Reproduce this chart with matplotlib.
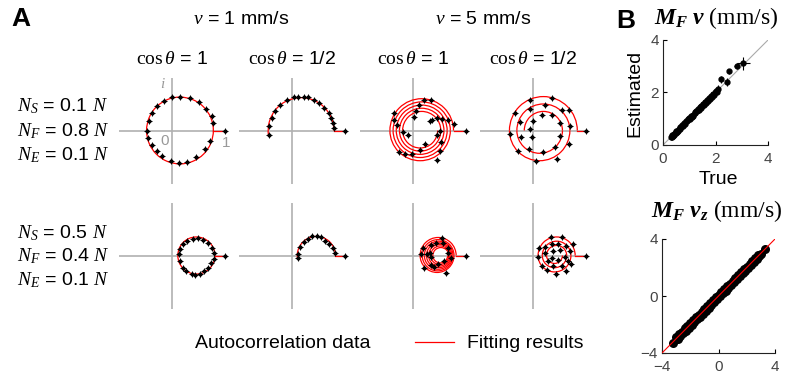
import matplotlib.pyplot as plt
from matplotlib.patches import Arc

plt.rcParams['font.family'] = ['Liberation Sans', 'DejaVu Sans']
# sans text, serif italic symbols (as in the original figure)
plt.rcParams['mathtext.fontset'] = 'custom'
plt.rcParams['mathtext.rm'] = 'Liberation Sans'
plt.rcParams['mathtext.it'] = 'Liberation Serif:italic'
plt.rcParams['mathtext.bf'] = 'Liberation Serif:bold'
plt.rcParams['mathtext.bfit'] = 'Liberation Serif:bold:italic'
plt.rcParams['mathtext.sf'] = 'Liberation Serif'

W, H = 790, 377

# ---------------- panel A : autocorrelation data (real, imag) ----------------
# row 1 : N_S = 0.1N, N_F = 0.8N ; row 2 : N_S = 0.5N, N_F = 0.4N
r1c1_x = [1.0, 0.0, 0.16, 0.34, 0.50, 0.64, 0.75, 0.78, 0.72, 0.62, 0.45, 0.29, 0.14, -0.02,
          -0.18, -0.29, -0.38, -0.46, -0.48, -0.43, -0.38, -0.28, -0.16]
r1c1_y = [0.0, 0.64, 0.64, 0.62, 0.53, 0.40, 0.28, 0.14, -0.19, -0.35, -0.50, -0.60, -0.62, -0.58,
          -0.48, -0.39, -0.28, -0.15, 0.0, 0.18, 0.33, 0.46, 0.55]

r1c2_x = [1.0, 0.79, 0.77, 0.74, 0.69, 0.60, 0.50, 0.41, 0.31, 0.22, 0.12, 0.03, -0.09, -0.22,
          -0.32, -0.38, -0.44, -0.44]
r1c2_y = [0.0, 0.05, 0.15, 0.24, 0.33, 0.43, 0.52, 0.58, 0.63, 0.63, 0.63, 0.63, 0.57, 0.49,
          0.36, 0.24, 0.08, -0.08]

r1c3_x = [1.0, 0.77, 0.34, 0.22, 0.12, 0.06, 0.02, -0.35, -0.35, -0.30, -0.19, -0.08, -0.26,
          -0.15, -0.02, 0.14, 0.23, 0.45, 0.53, 0.52, 0.45, 0.36, 0.45, 0.55, 0.67, 0.52, 0.33]
r1c3_y = [0.0, 0.13, 0.58, 0.57, 0.49, 0.36, 0.26, 0.33, 0.19, 0.11, -0.03, -0.09, -0.40,
          -0.45, -0.45, -0.36, -0.25, -0.08, -0.21, -0.39, -0.55, 0.19, 0.24, 0.21, 0.19, 0.0, 0.17]

r1c4_x = [1.0, 0.35, -0.06, -0.35, -0.44, -0.28, 0.05, 0.44, 0.68, 0.69, 0.67, 0.54, 0.22,
          -0.06, -0.25, -0.24, -0.08, 0.18, 0.41, 0.50, 0.50, 0.35, 0.16, 0.0, -0.06, -0.03]
r1c4_y = [0.0, 0.62, 0.58, 0.33, -0.06, -0.39, -0.58, -0.53, -0.25, 0.08, 0.38, 0.38, 0.49,
          0.41, 0.16, -0.12, -0.34, -0.41, -0.31, -0.11, 0.15, 0.30, 0.30, 0.18, 0.03, -0.12]

r2c1_x = [1.0, 0.16, 0.13, 0.15, 0.21, 0.27, 0.37, 0.44, 0.52, 0.60, 0.68, 0.74, 0.79, 0.79,
          0.75, 0.68, 0.58, 0.49, 0.40, 0.29, 0.21]
r2c1_y = [0.0, 0.12, 0.02, -0.11, -0.23, -0.30, -0.34, -0.36, -0.34, -0.30, -0.23, -0.15, -0.06,
          0.05, 0.14, 0.24, 0.30, 0.33, 0.31, 0.27, 0.21]

r2c2_x = [1.0, 0.82, 0.77, 0.70, 0.63, 0.55, 0.47, 0.38, 0.30, 0.22, 0.16, 0.11, 0.11]
r2c2_y = [0.0, 0.05, 0.14, 0.22, 0.28, 0.35, 0.36, 0.36, 0.31, 0.25, 0.16, 0.03, -0.05]

r2c3_x = [1.0, 0.55, 0.58, 0.44, 0.35, 0.19, 0.16, 0.27, 0.35, 0.22, 0.35, 0.47, 0.62, 0.60,
          0.66, 0.72, 0.66, 0.41, 0.32]
r2c3_y = [0.0, 0.33, 0.24, 0.24, 0.19, 0.14, 0.03, 0.02, -0.03, -0.23, -0.17, -0.16, -0.33, -0.11,
          0.05, -0.05, 0.14, -0.22, 0.05]

r2c4_x = [1.0, 0.33, 0.55, 0.75, 0.11, 0.09, 0.16, 0.25, 0.42, 0.61, 0.72, 0.22, 0.23, 0.35,
          0.47, 0.61, 0.69, 0.66, 0.54, 0.38, 0.28, 0.35, 0.38, 0.50, 0.60, 0.47]
r2c4_y = [0.0, 0.35, 0.35, 0.21, 0.14, -0.03, -0.20, -0.28, -0.35, -0.30, -0.16, 0.05, 0.16, 0.22,
          0.22, 0.18, 0.08, -0.11, -0.20, -0.20, -0.11, -0.05, 0.09, 0.11, -0.03, -0.09]

# fitting results : circle (centre, radius, end angle) for v = 1 mm/s,
# spiral (start point on real axis, radius of every half turn) for v = 5 mm/s
r1c1_fit = ('circle', 0.15, 0.63, 360)
r1c2_fit = ('circle', 0.17, 0.62, 188)
r2c1_fit = ('circle', 0.46, 0.35, 360)
r2c2_fit = ('circle', 0.46, 0.36, 190)
r1c3_fit = ('spiral', 0.77, [0.60, 0.57, 0.54, 0.51, 0.48, 0.45, 0.42, 0.39, 0.36, 0.33])
r1c4_fit = ('spiral', 0.83, [0.64, 0.57, 0.50, 0.43, 0.36])
r2c3_fit = ('spiral', 0.82, [0.34, 0.32, 0.30, 0.29, 0.27, 0.26, 0.24, 0.23, 0.21, 0.20,
                             0.18, 0.17, 0.15, 0.14])
r2c4_fit = ('spiral', 0.79, [0.35, 0.31, 0.27, 0.23, 0.19, 0.15])

col_labels = [r'$\mathsf{cos}\,\theta$ = 1', r'$\mathsf{cos}\,\theta$ = 1/2',
              r'$\mathsf{cos}\,\theta$ = 1', r'$\mathsf{cos}\,\theta$ = 1/2']
speed_labels = [r'$v$ = 1 mm/s', r'$v$ = 5 mm/s']
row1_labels = [r'$N_S$ = 0.1 $N$', r'$N_F$ = 0.8 $N$', r'$N_E$ = 0.1 $N$']
row2_labels = [r'$N_S$ = 0.5 $N$', r'$N_F$ = 0.4 $N$', r'$N_E$ = 0.1 $N$']

# ---------------- panel B ----------------
# M_F v : true vs estimated, with error bars
bt_true = [0.30, 0.33, 0.36, 0.38, 0.40, 0.42, 0.45, 0.48, 0.50, 0.53, 0.56, 0.60, 0.63, 0.66,
           0.70, 0.73, 0.76, 0.80, 0.84, 0.88, 0.92, 0.96, 1.00, 1.03, 1.06, 1.10, 1.13, 1.16,
           1.20, 1.23, 1.26, 1.30, 1.33, 1.36, 1.40, 1.43, 1.46, 1.50, 1.53, 1.56, 1.60, 1.63,
           1.66, 1.70, 1.74, 1.78, 1.82, 1.86, 1.90, 1.95, 2.00, 2.05, 2.10, 2.20, 2.42, 2.52,
           2.80, 3.05]
bt_est = [0.32, 0.30, 0.38, 0.35, 0.42, 0.38, 0.47, 0.45, 0.52, 0.50, 0.55, 0.62, 0.60, 0.68,
          0.70, 0.75, 0.74, 0.82, 0.80, 0.90, 0.90, 0.98, 1.02, 1.00, 1.10, 1.08, 1.16, 1.12,
          1.24, 1.20, 1.30, 1.28, 1.38, 1.32, 1.45, 1.40, 1.50, 1.48, 1.58, 1.52, 1.65, 1.60,
          1.70, 1.68, 1.80, 1.75, 1.88, 1.84, 1.96, 1.92, 2.06, 2.02, 2.15, 2.50, 2.40, 2.80,
          3.00, 3.12]
bt_yerr = [0.12] * 53 + [0.12, 0.14, 0.10, 0.12, 0.25]
bt_xerr = [0.03] * 53 + [0.05, 0.05, 0.05, 0.08, 0.25]

# M_F v_z : true vs estimated
bb_true = [-3.25, -3.0, -2.9, -2.8, -2.7, -2.6, -2.5, -2.4, -2.3, -2.2, -2.1, -2.0, -1.9, -1.8,
           -1.7, -1.6, -1.5, -1.4, -1.3, -1.2, -1.1, -1.0, -0.9, -0.8, -0.7, -0.6, -0.5, -0.4,
           -0.3, -0.2, -0.1, 0.0, 0.1, 0.2, 0.3, 0.4, 0.5, 0.6, 0.7, 0.8, 0.9, 1.0, 1.1, 1.2,
           1.3, 1.4, 1.5, 1.6, 1.7, 1.8, 1.9, 2.0, 2.1, 2.2, 2.3, 2.4, 2.5, 2.6, 2.7, 2.8, 2.9,
           3.0, 3.3]
bb_est = [-3.28, -2.90, -3.04, -2.68, -2.84, -2.50, -2.62, -2.28, -2.44, -2.10, -2.24, -1.88, -2.04,
          -1.70, -1.82, -1.50, -1.64, -1.30, -1.44, -1.10, -1.24, -0.90, -1.04, -0.70, -0.82, -0.50,
          -0.62, -0.30, -0.42, -0.10, -0.22, 0.07, 0.00, 0.27, 0.18, 0.47, 0.38, 0.67, 0.58, 0.87,
          0.78, 1.07, 0.98, 1.27, 1.18, 1.47, 1.40, 1.67, 1.58, 1.87, 1.78, 2.07, 2.00, 2.27, 2.18,
          2.47, 2.38, 2.67, 2.58, 2.87, 2.80, 2.95, 3.28]


def fx(px):
    return px / W


def fy(py):
    return 1 - py / H


fig = plt.figure(figsize=(7.9, 3.77), dpi=100)


def draw_fit(ax, fit):
    kw = dict(color='red', lw=0.9)
    if fit[0] == 'circle':
        _, c, r, end = fit
        ax.plot([1, c + r], [0, 0], **kw)
        ax.add_patch(Arc((c, 0), 2 * r, 2 * r, theta1=0, theta2=end, **kw))
    else:
        _, x, radii = fit
        ax.plot([1, x], [0, 0], **kw)
        for k, r in enumerate(radii):
            if k % 2 == 0:
                ax.add_patch(Arc((x - r, 0), 2 * r, 2 * r, theta1=0, theta2=180, **kw))
                x = x - 2 * r
            else:
                ax.add_patch(Arc((x + r, 0), 2 * r, 2 * r, theta1=180, theta2=360, **kw))
                x = x + 2 * r


cols_px = [172, 292, 412.7, 533.3]
rows_px = [130.5, 255.5]
panels = [
    [(r1c1_x, r1c1_y, r1c1_fit), (r1c2_x, r1c2_y, r1c2_fit), (r1c3_x, r1c3_y, r1c3_fit), (r1c4_x, r1c4_y, r1c4_fit)],
    [(r2c1_x, r2c1_y, r2c1_fit), (r2c2_x, r2c2_y, r2c2_fit), (r2c3_x, r2c3_y, r2c3_fit), (r2c4_x, r2c4_y, r2c4_fit)],
]
half = 53
for i, cy in enumerate(rows_px):
    for j, cx in enumerate(cols_px):
        ax = fig.add_axes([fx(cx - half), fy(cy + half), 2 * half / W, 2 * half / H])
        ax.set_xlim(-1, 1)
        ax.set_ylim(-1, 1)
        ax.axhline(0, color='#b0b0b0', lw=1.2, zorder=0)
        ax.axvline(0, color='#b0b0b0', lw=1.2, zorder=0)
        xs, ys, fit = panels[i][j]
        draw_fit(ax, fit)
        ax.plot(xs, ys, 'o', color='black', ms=3, mew=0, clip_on=False, zorder=3)
        ax.plot(xs, ys, '+', color='black', ms=4, mew=0.7, clip_on=False, zorder=3)
        ax.axis('off')

# axis hints on the first small plot
fig.text(fx(163), fy(84), r'$i$', color='#999999', fontsize=11, ha='center', va='center')
fig.text(fx(165), fy(141), '0', color='#999999', fontsize=11, ha='center', va='center')
fig.text(fx(226), fy(143), '1', color='#999999', fontsize=11, ha='center', va='center')

# headers
fs = 14
fig.text(fx(21), fy(19), 'A', fontsize=19, fontweight='bold', ha='center', va='center')
fig.text(fx(241), fy(19), speed_labels[0], fontsize=fs, ha='center', va='center')
fig.text(fx(483), fy(19), speed_labels[1], fontsize=fs, ha='center', va='center')
for cx, lab in zip(cols_px, col_labels):
    fig.text(fx(cx), fy(59), lab, fontsize=fs, ha='center', va='center')
for y, lab in zip([106, 131, 155], row1_labels):
    fig.text(fx(17), fy(y), lab, fontsize=fs, ha='left', va='center')
for y, lab in zip([233, 256, 280], row2_labels):
    fig.text(fx(17), fy(y), lab, fontsize=fs, ha='left', va='center')

# legend
fig.text(fx(283), fy(343), 'Autocorrelation data', fontsize=fs, ha='center', va='center')
fig.lines.append(plt.Line2D([fx(415), fx(454)], [fy(342), fy(342)], color='red', lw=0.9,
                            transform=fig.transFigure))
fig.text(fx(467), fy(343), 'Fitting results', fontsize=fs, ha='left', va='center')


# ---------------- panel B axes ----------------
def style_b(ax, ticks):
    for s in ['top', 'right']:
        ax.spines[s].set_visible(False)
    for s in ['left', 'bottom']:
        ax.spines[s].set_color('#222222')
        ax.spines[s].set_linewidth(0.8)
    ax.set_xticks(ticks)
    ax.set_yticks(ticks)
    ax.tick_params(direction='in', length=3, width=0.8, labelsize=11, labelcolor='#444444')
    ax.tick_params(axis='x', pad=5)
    ax.tick_params(axis='y', pad=3)


fig.text(fx(626), fy(21), 'B', fontsize=19, fontweight='bold', ha='center', va='center')

axt = fig.add_axes([fx(663), fy(145), (768 - 663) / W, (145 - 40) / H])
axt.plot([0, 4], [0, 4], color='#aaaaaa', lw=0.8, zorder=0)
axt.errorbar(bt_true, bt_est, yerr=bt_yerr, xerr=bt_xerr, fmt='o', color='black', ms=3.5,
             elinewidth=0.8, capsize=0)
axt.set_xlim(0, 4)
axt.set_ylim(0, 4)
style_b(axt, [0, 2, 4])
fig.text(fx(654), fy(18), r'$\mathbfit{M}_{\mathbfit{F}}\ \mathbfit{v}\ \mathsf{(mm/s)}$', fontsize=17,
         ha='left', va='center')
fig.text(fx(635), fy(93), 'Estimated', fontsize=fs, rotation=90, ha='center', va='center')
fig.text(fx(718), fy(179), 'True', fontsize=fs, ha='center', va='center')

axb = fig.add_axes([fx(662), fy(353), (775 - 662) / W, (353 - 239) / H])
axb.plot([-4, 4], [-4, 4], color='red', lw=0.8, zorder=3)
axb.plot(bb_true, bb_est, 'o', color='black', ms=6.5, mew=0)
axb.set_xlim(-4, 4)
axb.set_ylim(-4, 4)
style_b(axb, [-4, 0, 4])
fig.text(fx(651), fy(211), r'$\mathbfit{M}_{\mathbfit{F}}\ \mathbfit{v}_{\mathbfit{z}}\ \mathsf{(mm/s)}$',
         fontsize=17, ha='left', va='center')

fig.savefig('out.png', dpi=100)
